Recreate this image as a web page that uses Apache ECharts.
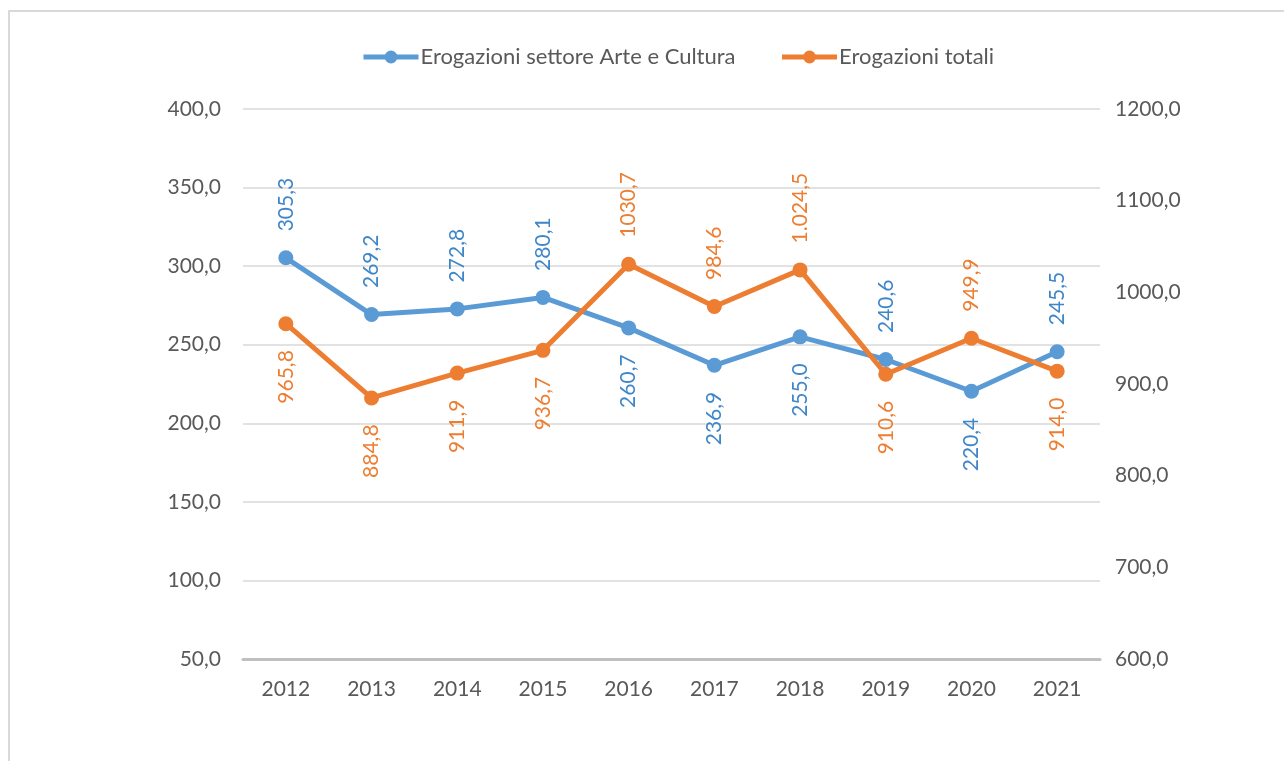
<!DOCTYPE html>
<html>
<head>
<meta charset="utf-8">
<script src="https://cdn.jsdelivr.net/npm/echarts@6/dist/echarts.min.js"></script>
<style>
html, body { margin: 0; padding: 0; background: #fff; }
#chart { width: 1284px; height: 761px; }
</style>
</head>
<body>
<div id="chart"></div>
<script>
// anni
var years = ['2012', '2013', '2014', '2015', '2016', '2017', '2018', '2019', '2020', '2021'];
// erogazioni settore Arte e Cultura (asse sinistro)
var arteCultura = [305.3, 269.2, 272.8, 280.1, 260.7, 236.9, 255.0, 240.6, 220.4, 245.5];
// erogazioni totali (asse destro)
var totali = [965.8, 884.8, 911.9, 936.7, 1030.7, 984.6, 1024.5, 910.6, 949.9, 914.0];
// testo delle etichette come nel grafico originale
var totaliLabels = ['965,8', '884,8', '911,9', '936,7', '1030,7', '984,6', '1.024,5', '910,6', '949,9', '914,0'];
// lato etichette: 1 sopra, 0 sotto
var arteSide = [1, 1, 1, 1, 0, 0, 0, 1, 0, 1];
var totSide = [0, 0, 0, 0, 1, 1, 1, 0, 1, 0];

var BLUE = '#5B9BD5', ORANGE = '#ED7D31';
var FONT = 'Lato';

function fmt(v) {
	return v.toFixed(1).replace('.', ',');
}

function makeLabel(up, color, text) {
	return {
		show: true,
		rotate: 90,
		position: up ? 'top' : 'bottom',
		align: up ? 'left' : 'right',
		verticalAlign: 'middle',
		distance: 19,
		color: color,
		fontFamily: FONT,
		fontSize: 21,
		formatter: text
	};
}

var arteData = arteCultura.map(function(v, i) {
	return { value: v, label: makeLabel(arteSide[i], '#3F86C9', fmt(v)) };
});
var totData = totali.map(function(v, i) {
	return { value: v, label: makeLabel(totSide[i], ORANGE, totaliLabels[i]) };
});

var chart = echarts.init(document.getElementById('chart'));
chart.setOption({
	animation: false,
	textStyle: { fontFamily: FONT },
	graphic: [{
		type: 'rect',
		shape: { x: 9, y: 11, width: 1290, height: 800 },
		style: { fill: 'none', stroke: '#D9D9D9', lineWidth: 2 },
		silent: true
	}],
	legend: {
		top: 41,
		left: 356,
		itemGap: 44,
		itemWidth: 55,
		itemHeight: 16,
		textStyle: { color: '#595959', fontSize: 22, fontFamily: FONT, padding: [0, 0, 0, -3] },
		lineStyle: { width: 5 },
		data: ['Erogazioni settore Arte e Cultura', 'Erogazioni totali']
	},
	grid: { left: 243, right: 184, top: 109, bottom: 102 },
	xAxis: {
		type: 'category',
		data: years,
		boundaryGap: true,
		axisLine: { lineStyle: { color: '#BFBFBF', width: 3 } },
		axisTick: { show: false },
		axisLabel: { color: '#595959', fontSize: 21, fontFamily: FONT, margin: 20 }
	},
	yAxis: [{
		type: 'value',
		min: 50,
		max: 400,
		interval: 50,
		axisLine: { show: false },
		axisTick: { show: false },
		splitLine: { lineStyle: { color: '#D9D9D9', width: 1.5 } },
		axisLabel: { color: '#595959', fontSize: 21, fontFamily: FONT, margin: 22, formatter: fmt }
	}, {
		type: 'value',
		min: 600,
		max: 1200,
		interval: 100,
		position: 'right',
		axisLine: { show: false },
		axisTick: { show: false },
		splitLine: { show: false },
		axisLabel: { color: '#595959', fontSize: 21, fontFamily: FONT, margin: 15, formatter: fmt }
	}],
	series: [{
		name: 'Erogazioni settore Arte e Cultura',
		type: 'line',
		yAxisIndex: 0,
		data: arteData,
		symbol: 'circle',
		symbolSize: 15,
		itemStyle: { color: BLUE },
		lineStyle: { color: BLUE, width: 5 },
		z: 2
	}, {
		name: 'Erogazioni totali',
		type: 'line',
		yAxisIndex: 1,
		data: totData,
		symbol: 'circle',
		symbolSize: 15,
		itemStyle: { color: ORANGE },
		lineStyle: { color: ORANGE, width: 5 },
		z: 3
	}]
});
</script>
</body>
</html>
